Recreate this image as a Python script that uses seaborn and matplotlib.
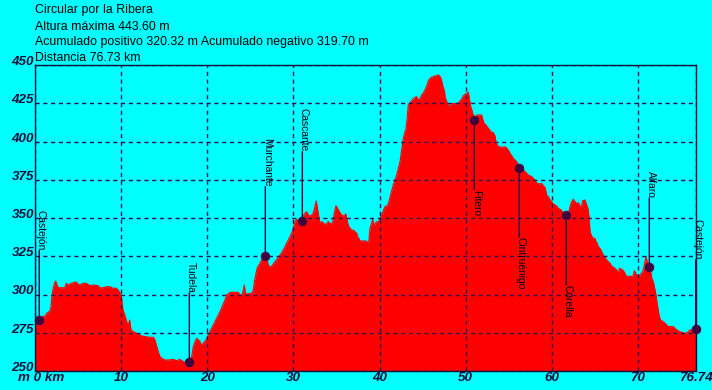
import matplotlib
matplotlib.use("Agg")
import matplotlib.pyplot as plt
import matplotlib.transforms as mtransforms
import seaborn as sns

# ---------------- data ----------------
title_lines = [
    "Circular por la Ribera",
    "Altura máxima 443.60 m",
    "Acumulado positivo 320.32 m Acumulado negativo 319.70 m",
    "Distancia 76.73 km",
]

dist_km = [0.00, 0.66, 1.13, 1.36, 1.71, 1.82, 1.94, 2.06, 2.25, 2.37, 2.52, 2.67, 3.42, 3.60, 3.80,
           4.18, 4.58, 4.76, 4.96, 5.16, 5.54, 5.93, 6.12, 6.32, 6.70, 7.29, 7.48, 7.87, 8.25, 8.65,
           9.03, 9.41, 9.61, 9.81, 9.99, 10.19, 10.39, 10.57, 10.77, 10.97, 11.12, 11.39, 12.17, 12.36,
           13.33, 13.71, 13.91, 14.11, 14.29, 14.49, 14.69, 15.07, 15.45, 16.04, 16.43, 16.81, 17.20,
           17.59, 17.78, 18.17, 18.36, 18.56, 18.75, 18.94, 19.14, 19.25, 19.52, 19.84, 20.10, 20.68,
           21.46, 22.04, 22.24, 22.62, 23.59, 23.79, 24.05, 24.17, 24.29, 24.40, 24.56, 25.15, 25.33,
           25.45, 25.61, 25.76, 25.91, 26.11, 26.31, 26.49, 26.69, 26.89, 27.07, 27.27, 27.47, 27.85,
           28.24, 28.63, 29.01, 29.40, 29.79, 29.98, 30.18, 30.37, 30.56, 30.76, 30.96, 31.14, 31.34,
           31.54, 31.72, 31.92, 32.12, 32.30, 32.50, 32.65, 32.81, 33.08, 33.28, 33.47, 33.66, 33.86,
           34.05, 34.24, 34.44, 34.56, 34.71, 34.83, 34.94, 35.09, 35.25, 35.41, 35.60, 35.79, 35.99,
           36.10, 36.18, 36.30, 36.45, 36.65, 36.83, 36.95, 37.15, 37.35, 37.46, 37.65, 37.73, 38.43,
           38.62, 38.74, 38.81, 38.89, 39.09, 39.20, 39.28, 39.39, 39.55, 39.74, 39.97, 40.13, 40.29,
           40.44, 40.63, 40.83, 41.02, 41.21, 41.41, 41.60, 41.80, 41.99, 42.18, 42.38, 42.49, 42.64,
           42.76, 42.96, 43.07, 43.23, 43.34, 43.54, 43.74, 43.92, 44.12, 44.32, 44.43, 44.70, 44.90,
           45.08, 45.28, 45.48, 45.67, 45.86, 46.06, 46.25, 46.44, 46.64, 46.83, 47.03, 47.14, 47.29,
           47.41, 47.53, 47.61, 47.80, 47.99, 48.11, 48.27, 48.57, 48.97, 49.15, 49.35, 49.55, 49.73,
           49.93, 50.13, 50.31, 50.43, 50.59, 50.71, 50.82, 51.01, 51.21, 51.29, 51.87, 51.99, 52.14,
           52.37, 52.64, 52.92, 53.22, 53.42, 53.53, 53.68, 53.80, 54.38, 54.58, 54.78, 54.96, 55.16,
           55.36, 55.54, 55.74, 55.94, 56.12, 56.52, 56.90, 57.29, 57.48, 57.68, 57.87, 58.06, 58.26,
           58.65, 58.84, 59.03, 59.23, 59.42, 59.61, 59.81, 60.00, 60.19, 60.39, 60.59, 60.77, 60.97,
           61.17, 61.35, 61.55, 61.94, 62.13, 62.33, 62.52, 62.71, 62.91, 63.10, 63.29, 63.49, 63.61,
           63.87, 64.07, 64.26, 64.37, 64.46, 64.65, 64.84, 65.04, 65.15, 65.30, 65.42, 65.61, 65.81,
           66.00, 66.20, 66.40, 66.58, 66.78, 66.97, 67.16, 67.36, 67.56, 67.74, 67.86, 68.14, 68.33,
           68.52, 68.72, 68.91, 69.30, 69.49, 69.61, 69.77, 69.89, 70.07, 70.27, 70.46, 70.65, 70.85,
           70.96, 71.11, 71.35, 71.51, 71.63, 71.81, 71.93, 72.09, 72.21, 72.39, 72.51, 72.67, 72.97,
           73.17, 73.37, 73.55, 74.13, 74.33, 74.53, 74.91, 75.30, 75.49, 75.69, 75.88, 76.08, 76.39,
           76.74]

elev_m = [284.6, 285.3, 285.9, 287.9, 289.2, 291.8, 299.7, 303.6, 307.5, 308.8, 306.2, 304.4, 304.4, 307.3, 306.2,
          307.3, 308.0, 308.2, 306.7, 306.2, 307.3, 307.3, 306.7, 305.8, 306.2, 305.8, 304.4, 304.4, 305.1, 305.1,
          304.1, 304.1, 302.9, 301.4, 298.6, 289.9, 286.6, 283.3, 279.4, 283.3, 276.8, 275.7, 273.5, 272.9,
          272.0, 272.0, 270.3, 265.9, 262.6, 259.3, 258.3, 257.2, 257.2, 257.6, 256.7, 257.6, 256.1,
          255.0, 255.4, 259.3, 265.9, 269.2, 271.4, 270.3, 269.2, 267.0, 268.1, 270.3, 273.5, 280.1,
          288.8, 296.4, 299.7, 301.4, 301.4, 299.7, 299.7, 302.9, 306.2, 300.8, 300.3, 300.8, 302.9,
          308.4, 312.7, 317.1, 318.6, 320.4, 322.5, 324.3, 325.2, 323.7, 319.3, 317.8, 318.6, 321.4,
          324.3, 327.3, 331.2, 335.6, 340.0, 343.3, 347.6, 349.2, 347.6, 349.8, 349.2, 351.3, 353.1,
          354.1, 352.0, 351.3, 352.0, 353.1, 357.8, 361.1, 355.2, 346.5, 347.6, 346.9, 345.4, 346.5,
          347.6, 346.5, 345.9, 347.6, 352.0, 355.7, 358.0, 356.7, 354.8, 353.5, 352.0, 351.3, 352.0,
          352.6, 349.8, 346.5, 344.3, 342.8, 341.5, 342.2, 341.0, 340.0, 337.4, 336.3, 335.0, 335.0,
          334.1, 334.5, 337.8, 343.3, 346.5, 349.2, 346.5, 345.4, 346.9, 347.6, 348.0, 350.8, 352.6,
          354.8, 357.4, 358.0, 359.2, 363.5, 367.8, 371.6, 374.8, 378.1, 382.5, 386.8, 391.2, 397.7,
          402.1, 406.4, 408.0, 416.2, 423.9, 425.4, 426.7, 427.8, 428.9, 429.3, 427.8, 427.8, 430.5,
          431.5, 433.7, 436.3, 439.7, 441.3, 442.0, 442.4, 442.8, 443.0, 443.6, 442.4, 441.3, 438.0,
          434.8, 433.7, 429.3, 426.0, 423.9, 422.7, 424.3, 425.0, 424.5, 425.4, 426.5, 427.8, 429.8,
          430.8, 431.5, 432.2, 428.2, 422.7, 421.0, 418.4, 416.2, 415.2, 417.3, 417.3, 414.5, 411.9,
          410.8, 408.6, 406.4, 405.8, 403.6, 399.9, 397.7, 396.6, 396.2, 396.6, 395.6, 394.4, 392.3,
          390.7, 389.0, 387.9, 386.8, 384.6, 382.5, 380.3, 378.1, 377.5, 377.0, 375.9, 374.8, 372.7,
          372.2, 372.7, 370.9, 370.1, 365.0, 363.9, 361.8, 360.7, 359.2, 358.5, 357.8, 356.3, 355.7,
          354.8, 353.1, 352.0, 352.0, 357.4, 360.7, 362.2, 360.7, 359.2, 360.0, 357.8, 357.8, 361.3,
          361.8, 358.5, 355.2, 348.7, 341.0, 338.2, 336.7, 336.7, 334.5, 333.5, 331.2, 330.2, 328.0,
          325.8, 324.3, 322.5, 321.4, 320.4, 318.6, 317.8, 317.1, 316.0, 312.7, 317.1, 316.5, 315.6,
          313.9, 311.6, 311.9, 311.9, 312.1, 315.6, 313.9, 312.7, 312.1, 312.7, 313.9, 316.0, 321.4,
          324.7, 321.2, 317.8, 314.9, 310.6, 308.4, 305.1, 300.8, 295.9, 289.9, 285.5, 283.3, 282.2,
          281.2, 280.1, 279.0, 279.0, 277.9, 276.8, 275.7, 275.0, 274.6, 275.0, 275.7, 276.8, 277.3,
          277.9]

waypoint_names = ["Castejón", "Tudela", "Murchante", "Cascante", "Fitero",
                  "Cintruénigo", "Corella", "Alfaro", "Castejón"]
waypoint_km = [0.46, 17.90, 26.73, 31.03, 51.01, 56.24, 61.70, 71.35, 76.74]
waypoint_elev = [283.3, 255.7, 325.2, 348.0, 413.9, 383.0, 351.8, 317.8, 277.3]
label_side = ["up", "up", "up", "up", "down", "down", "down", "up", "up"]

x_ticks = [0, 10, 20, 30, 40, 50, 60, 70, 76.74]
x_tick_labels = ["m 0 km", "10", "20", "30", "40", "50", "60", "70", "76.74"]
y_ticks = [250, 275, 300, 325, 350, 375, 400, 425, 450]
y_tick_labels = ["250", "275", "300", "325", "350", "375", "400", "425", "450"]

# ---------------- style ----------------
sns.set_style("white")
plt.rcParams["font.family"] = ["Liberation Sans", "DejaVu Sans"]

CYAN = "#00FFFF"
RED = "#FF0000"
GRID = "#3a1050"
INK = "#10103a"
MARK = "#400040"

fig = plt.figure(figsize=(7.12, 3.9), dpi=100, facecolor=CYAN)
ax = fig.add_axes([35.3 / 712, 19 / 390, (695.7 - 35.3) / 712, (371 - 65) / 390])
ax.set_facecolor(CYAN)

ax.fill_between(dist_km, elev_m, 250, color=RED, linewidth=0, zorder=1)
sns.lineplot(x=dist_km, y=elev_m, ax=ax, color=RED, linewidth=0.8, sort=False,
             estimator=None, zorder=2)

ax.set_xlim(0, 76.74)
ax.set_ylim(250, 450)
ax.set_xticks(x_ticks)
ax.set_xticklabels(x_tick_labels)
ax.set_yticks(y_ticks)
ax.set_yticklabels(y_tick_labels)
ax.set_xlabel("")
ax.set_ylabel("")

ax.grid(True, color=GRID, linewidth=1.0, linestyle=(0, (3.0, 2.6)), zorder=3)
ax.set_axisbelow(False)
for gl in ax.get_xgridlines() + ax.get_ygridlines():
    gl.set_zorder(3)

for s in ax.spines.values():
    s.set_color(INK)
    s.set_linewidth(1.0)
    s.set_zorder(4)

ax.tick_params(axis="both", length=0, pad=1)
for lab in ax.get_xticklabels() + ax.get_yticklabels():
    lab.set_fontsize(9.6)
    lab.set_fontweight("bold")
    lab.set_fontstyle("italic")
    lab.set_color(INK)
for lab in ax.get_yticklabels():
    lab.set_va("baseline")
# shift "m 0 km" so the 0 sits on its tick
first = ax.get_xticklabels()[0]
first.set_transform(first.get_transform() +
                    mtransforms.ScaledTranslation(6 / 100, 0, fig.dpi_scale_trans))

# waypoints: connector line + rotated label
for name, k, e, side in zip(waypoint_names, waypoint_km, waypoint_elev, label_side):
    dy = 50 if side == "up" else -50
    ax.annotate("", xy=(k, e), xytext=(0, dy), textcoords="offset points",
                annotation_clip=False, zorder=6,
                arrowprops=dict(arrowstyle="-", color="#200040", lw=1.0,
                                shrinkA=0, shrinkB=0))
    ax.annotate(name, xy=(k, e), xytext=(1, dy), textcoords="offset points",
                rotation=-90, ha="center", va="bottom" if side == "up" else "top",
                fontsize=7.4, color="#000010", zorder=6, annotation_clip=False)
sns.scatterplot(x=waypoint_km, y=waypoint_elev, ax=ax, color=MARK, s=40,
                edgecolor=MARK, linewidth=0.5, zorder=7, legend=False, clip_on=False)

# header text
baselines = [13.5, 29.5, 45.0, 61.0]
for txt, yb in zip(title_lines, baselines):
    fig.text(35 / 712, 1 - yb / 390, txt, fontsize=8.9, color="#000000",
             ha="left", va="baseline")

fig.savefig("out.png", dpi=100, facecolor=CYAN)
